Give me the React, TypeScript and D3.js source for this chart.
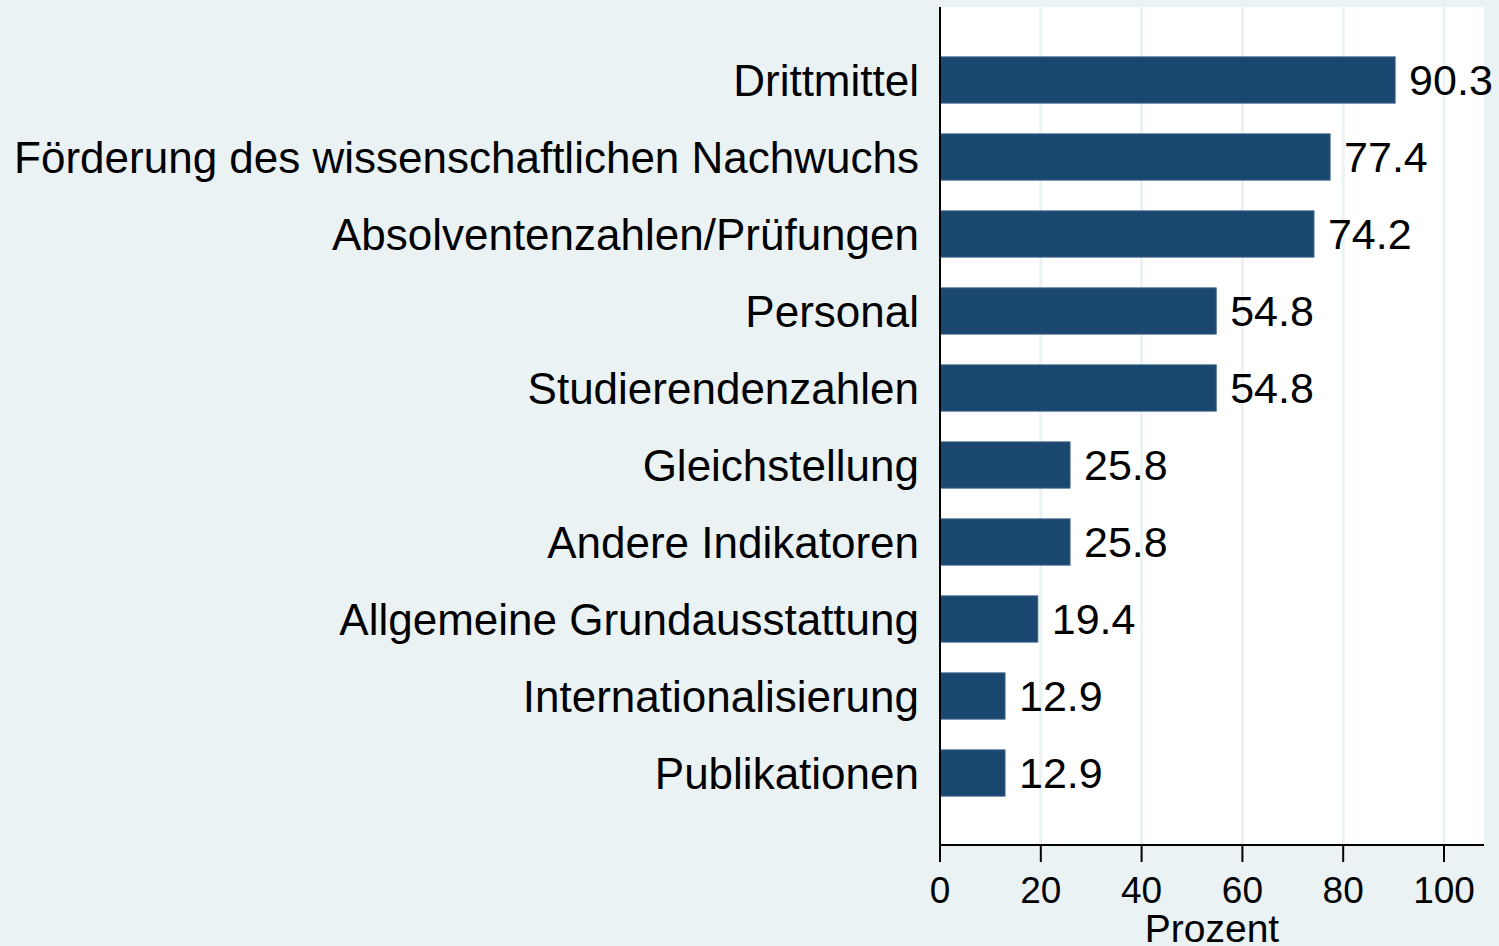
import React from "react";
import * as d3 from "d3";

const categories = [
  "Drittmittel",
  "Förderung des wissenschaftlichen Nachwuchs",
  "Absolventenzahlen/Prüfungen",
  "Personal",
  "Studierendenzahlen",
  "Gleichstellung",
  "Andere Indikatoren",
  "Allgemeine Grundausstattung",
  "Internationalisierung",
  "Publikationen",
];
const values = [90.3, 77.4, 74.2, 54.8, 54.8, 25.8, 25.8, 19.4, 12.9, 12.9];
const xTicks = [0, 20, 40, 60, 80, 100];
const xTitle = "Prozent";

const W = 1499;
const H = 946;
const plotLeft = 940;
const plotRight = 1484;
const plotTop = 7;
const plotBottom = 845;

export default function App() {
  const x = d3.scaleLinear().domain([0, 100]).range([plotLeft, 1444]);
  const y = d3
    .scaleBand<string>()
    .domain(categories)
    .range([41.5, 811.5])
    .paddingInner(0.4)
    .paddingOuter(0.2);
  const font = "'Liberation Sans', Arial, sans-serif";
  return (
    <svg
      width={W}
      height={H}
      style={{ position: "absolute", left: 0, top: 0 }}
      fontFamily={font}
    >
      <rect x={0} y={0} width={W} height={H} fill="#eaf2f3" />
      <rect
        x={plotLeft}
        y={plotTop}
        width={plotRight - plotLeft}
        height={plotBottom - plotTop}
        fill="#ffffff"
      />
      {xTicks
        .filter((t) => t > 0)
        .map((t) => (
          <line
            key={"g" + t}
            x1={x(t)}
            x2={x(t)}
            y1={plotTop}
            y2={plotBottom}
            stroke="#eaf2f3"
            strokeWidth={3}
          />
        ))}
      {categories.map((c, i) => {
        const yy = y(c)!;
        const bw = y.bandwidth();
        return (
          <g key={c}>
            <rect
              x={x(0)}
              y={yy}
              width={x(values[i]) - x(0)}
              height={bw}
              fill="#1a476f"
              stroke="#3b6089"
              strokeWidth={1}
            />
            <text
              x={x(values[i]) + 14}
              y={yy + bw / 2}
              dy="0.36em"
              fontSize={43}
              fill="#000"
            >
              {values[i].toFixed(1)}
            </text>
            <text
              x={919}
              y={yy + bw / 2}
              dy="0.36em"
              fontSize={44}
              textAnchor="end"
              fill="#000"
            >
              {c}
            </text>
          </g>
        );
      })}
      <line
        x1={plotLeft}
        x2={plotLeft}
        y1={plotTop}
        y2={plotBottom}
        stroke="#000"
        strokeWidth={2}
      />
      <line
        x1={plotLeft}
        x2={plotRight}
        y1={plotBottom}
        y2={plotBottom}
        stroke="#000"
        strokeWidth={2}
      />
      {xTicks.map((t) => (
        <g key={"t" + t}>
          <line
            x1={x(t)}
            x2={x(t)}
            y1={plotBottom}
            y2={plotBottom + 17}
            stroke="#000"
            strokeWidth={2}
          />
          <text
            x={x(t)}
            y={890}
            dy="0.36em"
            fontSize={37}
            textAnchor="middle"
            fill="#000"
          >
            {t}
          </text>
        </g>
      ))}
      <text
        x={(plotLeft + plotRight) / 2}
        y={928}
        dy="0.36em"
        fontSize={39}
        textAnchor="middle"
        fill="#000"
      >
        {xTitle}
      </text>
    </svg>
  );
}
